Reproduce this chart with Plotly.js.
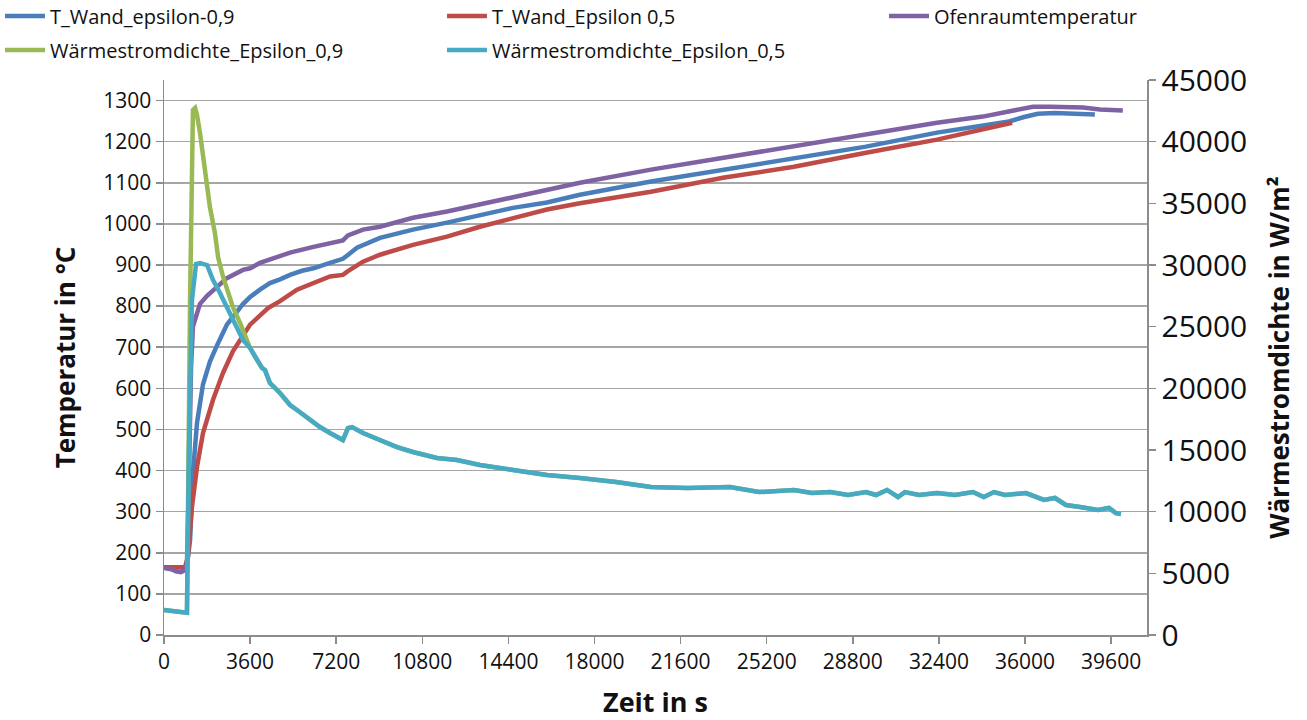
<!DOCTYPE html>
<html>
<head>
<meta charset="utf-8">
<script src="https://cdn.plot.ly/plotly-3.0.1.min.js"></script>
<style>html,body{margin:0;padding:0;background:#fff;}#chart{width:1307px;height:720px;}</style>
</head>
<body>
<div id="chart"></div>
<script>
// ---- Data ----
const seriesNames = ["T_Wand_epsilon-0,9", "T_Wand_Epsilon 0,5", "Ofenraumtemperatur",
                     "Wärmestromdichte_Epsilon_0,9", "Wärmestromdichte_Epsilon_0,5"];

// Wall temperature, epsilon 0.9 (°C)
const tWand09 = [0,880,960,1090,1210,1380,1630,1920,2220,2630,3300,3600,4010,4430,4850,5270,5770,6250,6940,7480,7700,8070,9030,10410,11830,13210,14590,16010,17390,20360,23370,26340,29350,32320,34850,35330,35960,36540,37250,38130,38920];
const TWand09 = [165,165,170,231,394,516,610,665,705,755,805,822,840,856,865,876,886,892,905,915,925,942,966,986,1003,1022,1039,1052,1071,1103,1132,1161,1188,1222,1243,1249,1260,1268,1270,1268,1266];

// Wall temperature, epsilon 0.5 (°C)
const tWand05 = [0,880,1000,1170,1380,1630,2050,2470,2880,3600,4350,4850,5560,6250,6940,7480,7690,8320,9030,10410,11830,13210,14590,16010,17390,20360,23370,26340,29350,32320,35460];
const TWand05 = [165,165,190,312,409,491,572,638,690,755,795,812,840,855,872,876,885,908,925,949,969,993,1015,1035,1050,1078,1112,1139,1173,1205,1246];

// Furnace chamber temperature (°C)
const tOfen = [0,300,500,700,880,960,1050,1130,1210,1500,1800,2200,2630,3300,3600,4010,4700,5270,6250,6940,7480,7690,8320,9030,10410,11830,13210,14290,17390,20360,23370,26340,29350,32320,34240,35660,36330,37040,38420,39130,40090];
const TOfen = [163,160,155,153,158,175,400,650,750,805,825,845,868,888,892,905,918,930,944,952,960,972,986,993,1015,1030,1047,1060,1100,1132,1161,1188,1217,1246,1261,1278,1285,1285,1283,1278,1276];

// Heat flux density, epsilon 0.9 — start and peak (W/m²)
const tQ09Head = [0,880,960,1090,1150,1210,1300,1380,1505,1630,1800,1920,2130,2260,2470,2630,2880,3180,3470];
const Q09Head = [2030,1780,1800,27160,39320,42570,42730,42160,40700,38760,36650,34700,32590,30650,29030,27970,26590,25300,23920];

// Heat flux density, epsilon 0.5 — start and peak (W/m²)
const tQ05Head = [0,880,960,1045,1170,1340,1505,1800,2050,2340,2630,3050,3300];
const Q05Head = [2030,1800,1800,15000,27160,30080,30160,30000,28780,27730,26590,24970,23920];

// Heat flux density after ~3600 s (both curves practically coincide) (W/m²)
const tQTail = [3600,3890,4100,4220,4430,4850,5270,5560,6100,6520,6940,7480,7690,7860,8320,9030,9740,10410,11410,12250,13210,14590,16010,17390,18900,20360,21870,23660,24880,26340,27090,27850,28600,29350,29770,30230,30690,30980,31570,32320,33070,33820,34280,34700,35160,36040,36790,37250,37710,38300,39050,39510,39800,40010];
const QTail = [23270,22300,21650,21490,20430,19620,18650,18240,17430,16860,16380,15810,16780,16860,16380,15810,15240,14840,14350,14190,13780,13380,12970,12730,12410,12000,11920,12000,11590,11760,11510,11590,11350,11590,11350,11760,11190,11590,11350,11510,11350,11590,11190,11590,11350,11510,10950,11110,10540,10380,10140,10300,9890,9810];

const xTicks = [0,3600,7200,10800,14400,18000,21600,25200,28800,32400,36000,39600];

// ---- Styling ----
const colors = ["#4a7ebb", "#be4b48", "#7f62a4", "#98b954", "#46aac5"];
const FONT = "Open Sans, Noto Sans, sans-serif";
const TXT = "#111111";
const GRID = "#a6a6a6";
const AX = "#8c8c8c";

const lw = 4.5;
const traces = [
  {x: tWand09, y: TWand09, name: seriesNames[0], legend: "legend"},
  {x: tWand05, y: TWand05, name: seriesNames[1], legend: "legend2"},
  {x: tOfen, y: TOfen, name: seriesNames[2], legend: "legend3"},
  {x: tQ09Head.concat(tQTail), y: Q09Head.concat(QTail), name: seriesNames[3], legend: "legend4", yaxis: "y2"},
  {x: tQ05Head.concat(tQTail), y: Q05Head.concat(QTail), name: seriesNames[4], legend: "legend5", yaxis: "y2"}
].map((t, i) => Object.assign({type: "scatter", mode: "lines", line: {color: colors[i], width: lw}, hoverinfo: "skip"}, t));

const W = 1307, H = 720, L = 164, R = 160, T = 80, B = 85;

function leg(xpx, ypx) {
  return {x: xpx / W, y: (H - ypx) / H, xref: "container", yref: "container",
          xanchor: "left", yanchor: "middle", orientation: "h",
          bgcolor: "rgba(0,0,0,0)", borderwidth: 0, itemwidth: 40,
          font: {family: FONT, size: 20, color: TXT}};
}

const layout = {
  width: W, height: H,
  margin: {l: L, r: R, t: T, b: B, autoexpand: false},
  paper_bgcolor: "#ffffff", plot_bgcolor: "#ffffff",
  showlegend: true,
  legend: leg(-4, 16),
  legend2: leg(442, 16),
  legend3: leg(884, 16),
  legend4: leg(-4, 50),
  legend5: leg(442, 50),
  xaxis: {
    range: [0, 41100], tickmode: "array", tickvals: xTicks, ticktext: xTicks.map(String),
    showgrid: false, zeroline: false, showline: true, linecolor: AX, linewidth: 1.5,
    ticks: "outside", ticklen: 7, tickcolor: AX, tickwidth: 1.5,
    tickfont: {family: FONT, size: 21, color: TXT},
    title: {text: "Zeit in s", font: {family: FONT, size: 27, color: TXT, weight: "bold"}, standoff: 25}
  },
  yaxis: {
    range: [0, 1350], tick0: 0, dtick: 100,
    showgrid: true, gridcolor: GRID, gridwidth: 1.5, zeroline: false,
    showline: true, linecolor: AX, linewidth: 1.5,
    ticks: "outside", ticklen: 7, tickcolor: AX, tickwidth: 1.5,
    tickfont: {family: FONT, size: 21, color: TXT},
    title: {text: "Temperatur in °C", font: {family: FONT, size: 26, color: TXT, weight: "bold"}, standoff: 20}
  },
  yaxis2: {
    overlaying: "y", side: "right", range: [0, 45000], tick0: 0, dtick: 5000, tickformat: "d",
    showgrid: false, zeroline: false, showline: true, linecolor: AX, linewidth: 1.5,
    ticks: "outside", ticklen: 7, tickcolor: AX, tickwidth: 1.5,
    tickfont: {family: FONT, size: 30, color: TXT},
    title: {text: "Wärmestromdichte in W/m²", font: {family: FONT, size: 26, color: TXT, weight: "bold"}, standoff: 24}
  }
};

Plotly.newPlot("chart", traces, layout, {displayModeBar: false, staticPlot: true});
</script>
</body>
</html>
